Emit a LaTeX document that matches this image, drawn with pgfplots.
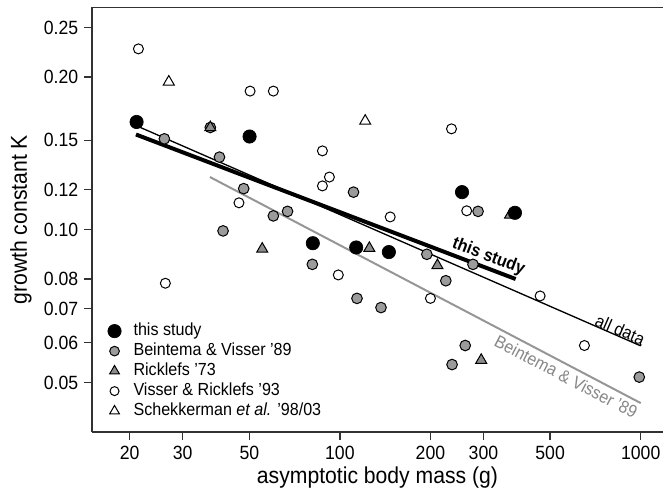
\documentclass[border=0pt]{standalone}
\usepackage{fontspec}
\setmainfont{Liberation Sans}[FakeStretch=0.92]
\usepackage{pgfplots}
\pgfplotsset{compat=1.18}
\usetikzlibrary{calc}
\definecolor{circgray}{RGB}{155,155,155}
\definecolor{trigray}{RGB}{140,140,140}
\definecolor{linegray}{RGB}{150,150,150}
\definecolor{textgray}{RGB}{135,135,135}
\definecolor{axisblack}{RGB}{50,50,50}

\begin{document}
\begin{tikzpicture}
\begin{axis}[
  name=ax,
  scale only axis, width=342.6pt, height=254.8pt,
  xmode=log, ymode=log,
  xmin=15, xmax=1186, ymin=0.04, ymax=0.274,
  axis x line=box, axis y line=left,
  axis line style={-, line width=0.8pt, axisblack},
  tick pos=left, tick align=outside, major tick length=4.8pt,
  major tick style={line width=0.8pt, axisblack},
  minor tick style={draw=none},
  xtick={20,30,50,100,200,300,500,1000},
  xticklabels={20,30,50,100,200,300,500,1000},
  ytick={0.05,0.06,0.07,0.08,0.10,0.12,0.15,0.20,0.25},
  yticklabels={0.05,0.06,0.07,0.08,0.10,0.12,0.15,0.20,0.25},
  ticklabel style={font=\fontsize{11.5}{13}\selectfont},
  xlabel={asymptotic body mass (g)},
  ylabel={growth constant K},
  label style={font=\fontsize{13.8}{16}\selectfont},
  xlabel style={at={(axis description cs:0.5,-0.108)}, anchor=center},
  ylabel style={at={(axis description cs:-0.1243,0.5)}, anchor=center},
  legend cell align=left,
  legend style={draw=none, fill=none, at={(axis description cs:0.0272,0.257)},
    anchor=north west, inner sep=0pt, row sep=2.5pt, column sep=7.4pt,
    font=\fontsize{10.5}{12}\selectfont,
    nodes={inner sep=0pt, text height=7.5pt, text depth=2pt}},
]
% legend images (plots below are drawn in a different order)
\addlegendimage{only marks, mark=*, mark size=4pt, mark options={fill=black, draw=black}}
\addlegendentry{this study}
\addlegendimage{only marks, mark=*, mark size=2.9pt, mark options={fill=circgray, draw=black, line width=0.6pt}}
\addlegendentry{Beintema \& Visser '89}
\addlegendimage{only marks, mark=triangle*, mark size=3.4pt, mark options={fill=trigray, draw=black, line width=0.6pt}}
\addlegendentry{Ricklefs '73}
\addlegendimage{only marks, mark=*, mark size=2.7pt, mark options={fill=white, draw=black, line width=0.6pt}}
\addlegendentry{Visser \& Ricklefs '93}
\addlegendimage{only marks, mark=triangle*, mark size=3.4pt, mark options={fill=white, draw=black, line width=0.6pt}}
\addlegendentry{Schekkerman \textit{et al.} '98/03}

% regression lines
\addplot[linegray, line width=1.2pt, forget plot] coordinates {(37,0.127) (1000,0.0456)};
\addplot[black, line width=0.8pt, forget plot] coordinates {(21.2,0.160) (1000,0.0591)};
\addplot[black, line width=2.4pt, forget plot] coordinates {(21,0.154) (384,0.080)};

% Visser & Ricklefs '93
\addplot[only marks, mark=*, mark size=3pt, mark options={fill=white, draw=black, line width=0.6pt}, forget plot] coordinates {
(21.4,0.227) (50.3,0.1875) (60.1,0.1875) (87.5,0.143) (92.3,0.127) (87.5,0.122)
(46.2,0.113) (235,0.158) (147,0.106) (264,0.109) (98.8,0.0815) (200,0.0733)
(463,0.0741) (650,0.0592) (26.3,0.0785)
};
% Beintema & Visser '89
\addplot[only marks, mark=*, mark size=3.2pt, mark options={fill=circgray, draw=black, line width=0.6pt}, forget plot] coordinates {
(26.1,0.151) (37.1,0.159) (39.8,0.139) (47.9,0.1205) (60.1,0.1065) (67,0.1087)
(40.9,0.0995) (111,0.1186) (288,0.1087) (81,0.0855) (194.6,0.0895) (277,0.0855)
(225,0.0794) (114,0.0733) (137,0.0703) (261,0.0592) (236,0.0543) (989,0.0513)
};
% Ricklefs '73
\addplot[only marks, mark=triangle*, mark size=3.8pt, mark options={fill=trigray, draw=black, line width=0.6pt}, forget plot] coordinates {
(37.1,0.159) (55.2,0.0917) (125.3,0.092) (211,0.0851) (368,0.107) (295,0.0554)
};
% Schekkerman et al. '98/03
\addplot[only marks, mark=triangle*, mark size=3.8pt, mark options={fill=white, draw=black, line width=0.6pt}, forget plot] coordinates {
(27,0.1955) (121.4,0.1637)
};
% this study
\addplot[only marks, mark=*, mark size=4pt, mark options={fill=black, draw=black}, forget plot] coordinates {
(21.1,0.163) (50.1,0.1526) (81.3,0.0941) (113.3,0.0923) (145.5,0.0904) (254.7,0.1186) (382,0.108)
};

% line labels
\node[rotate=-20.9, font=\fontsize{10.5}{12}\selectfont\bfseries] at (axis cs:312,0.0885) {this study};
\node[rotate=-23.5, font=\fontsize{10.5}{12}\selectfont] at (axis cs:855,0.0636) {all data};
\node[rotate=-27.6, textgray, font=\fontsize{10.5}{12}\selectfont] at (axis cs:565,0.0514) {Beintema \& Visser '89};
\end{axis}
\pgfresetboundingbox
\path[use as bounding box] ($(ax.south west)+(-55.2pt,-38.4pt)$) rectangle ($(ax.north east)+(0pt,4.4pt)$);
\end{tikzpicture}
\end{document}
